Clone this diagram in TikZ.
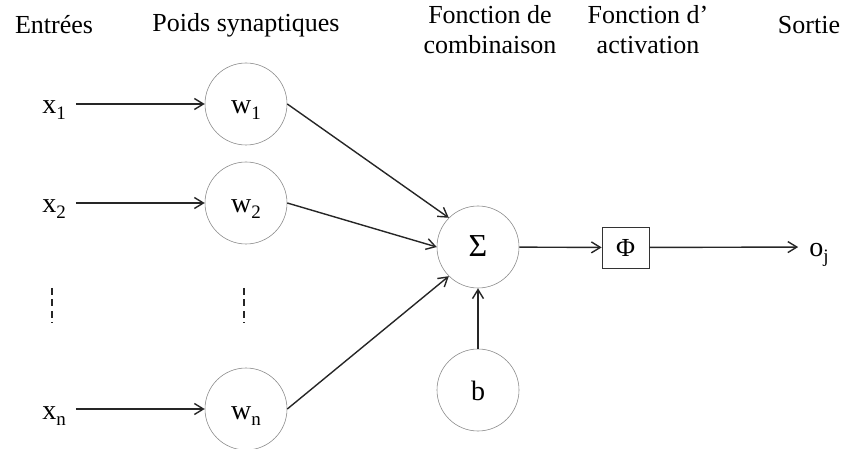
\documentclass[tikz,border=0pt]{standalone}
\usepackage{fontspec}
\setmainfont{Liberation Serif}
\usetikzlibrary{positioning,arrows.meta}

\newcommand{\subidx}[1]{\raisebox{-6pt}{\fontsize{19}{19}\selectfont #1}}

\begin{document}
\begin{tikzpicture}[
    x=1pt, y=-1pt,
    head/.style={
        align=center,
        font=\fontsize{26}{30}\selectfont
      },
    neuron/.style={
        circle,
        draw=black!45,
        line width=0.6pt,
        minimum size=82pt,
        inner sep=0pt,
        text height=22pt,
        text depth=2pt,
        font=\fontsize{28}{30}\selectfont
      },
    var/.style={
        inner sep=10pt,
        text height=22pt,
        text depth=2pt,
        font=\fontsize{28}{30}\selectfont
      },
    actbox/.style={
        rectangle,
        draw=black!80,
        line width=0.7pt,
        minimum width=47pt,
        minimum height=41pt,
        inner sep=0pt,
        font=\fontsize{26}{30}\selectfont
      },
    arrow/.style={-{Straight Barb[length=9pt,width=11pt]},line width=1.4pt,draw=black!85},
    dots/.style={dash pattern=on 7pt off 4.5pt,line width=1.3pt,draw=black!85}
    ]

    \useasboundingbox (0,0) rectangle (844,449);

    % titres
    \node[head] (hin) at (54,25) {Entrées};
    \node[head] (hw) at (246,25) {Poids synaptiques};
    \node[head] (hsum) at (490,30) {Fonction de\\combinaison};
    \node[head] (hact) at (648,30) {Fonction d’\\activation};
    \node[head] (hout) at (809,25) {Sortie};

    % entrees et poids
    \node[var] (x1) at (54,104) {x\subidx{1}};
    \node[var] (x2) at (54,203) {x\subidx{2}};
    \node[var] (xn) at (54,409) {x\subidx{n}};
    \node[neuron] (w1) at (246,104) {w\subidx{1}};
    \node[neuron] (w2) at (246,203) {w\subidx{2}};
    \node[neuron] (wn) at (246,409) {w\subidx{n}};

    \draw[dots] (52,288)--(52,323);
    \draw[dots] (244,288)--(244,323);

    % sommation et activation
    \node[neuron,font=\fontsize{32}{34}\selectfont] (sum) at (478,247) {Σ};
    \node[neuron] (bias) at (478,390) {b};
    \node[actbox] (act) at (625.5,247.5) {Φ};
    \node[var,inner sep=11pt] (out) at (819,247) {o\subidx{j}};

    \draw[arrow] (x1)--(w1);
    \draw[arrow] (x2)--(w2);
    \draw[arrow] (xn)--(wn);
    \draw[arrow] (w1.east)--(sum.135);
    \draw[arrow] (w2.east)--(sum.west);
    \draw[arrow] (wn.east)--(sum.225);
    \draw[arrow] (bias)--(sum);
    \draw[arrow] (sum)--(act);
    \draw[arrow] (act)--(out);

  \end{tikzpicture}
\end{document}
